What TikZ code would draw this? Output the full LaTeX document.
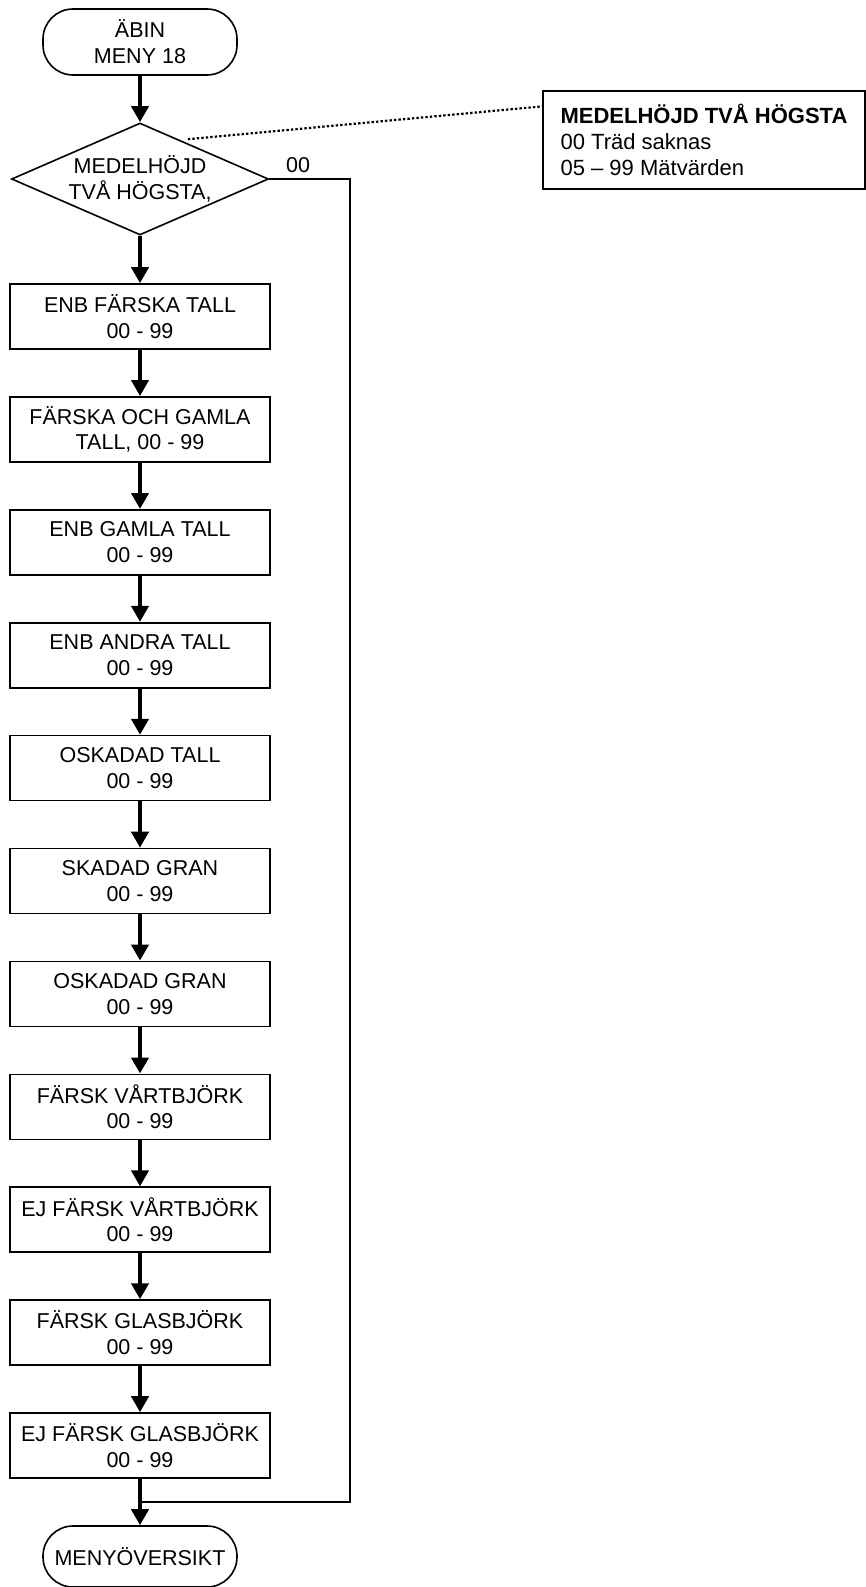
\documentclass[tikz,border=0pt]{standalone}
\usepackage{fontspec}
\setmainfont{Liberation Sans}
\usetikzlibrary{arrows.meta,shapes.geometric,calc}
\begin{document}
\begin{tikzpicture}[x=1pt,y=-1pt,
  txt/.style={font=\fontsize{21.5}{25.8}\selectfont, align=center},
  stepbox/.style={txt, draw, line width=1.6pt, minimum width=260pt, minimum height=65pt, inner sep=0pt},
  term/.style={txt, draw, line width=1.6pt, rounded corners=30pt, minimum width=194pt, minimum height=66pt, inner sep=0pt},
  decision/.style={txt, draw, diamond, line width=1.6pt, minimum width=257pt, minimum height=112pt, inner sep=0pt, aspect=2.29},
  flow/.style={line width=4pt, -{Triangle[width=17pt,length=16pt]}},
  back/.style={line width=2pt},
  notelink/.style={line width=2.2pt, dash pattern=on 2.4pt off 2.1pt},
  notebox/.style={draw, line width=1.8pt, font=\fontsize{22}{26.3}\selectfont, align=left, minimum width=322pt, minimum height=98pt, inner sep=0pt}
]
\fill[white] (0,0) rectangle (866,1587);
\useasboundingbox (0,0) rectangle (866,1587);

% start, decision and the chain of input steps
\node[term] (start) at (140,42) {ÄBIN\\MENY 18};
\node[decision] (d) at (140,179) {MEDELHÖJD\\TVÅ HÖGSTA,};
\node[stepbox] (b1)  at (140,316.5)  {ENB FÄRSKA TALL\\00 - 99};
\node[stepbox] (b2)  at (140,429.4)  {FÄRSKA OCH GAMLA\\TALL, 00 - 99};
\node[stepbox] (b3)  at (140,542.3)  {ENB GAMLA TALL\\00 - 99};
\node[stepbox] (b4)  at (140,655.2)  {ENB ANDRA TALL\\00 - 99};
\node[stepbox] (b5)  at (140,768.1)  {OSKADAD TALL\\00 - 99};
\node[stepbox] (b6)  at (140,881.0)  {SKADAD GRAN\\00 - 99};
\node[stepbox] (b7)  at (140,993.9)  {OSKADAD GRAN\\00 - 99};
\node[stepbox] (b8)  at (140,1106.8) {FÄRSK VÅRTBJÖRK\\00 - 99};
\node[stepbox] (b9)  at (140,1219.7) {EJ FÄRSK VÅRTBJÖRK\\00 - 99};
\node[stepbox] (b10) at (140,1332.6) {FÄRSK GLASBJÖRK\\00 - 99};
\node[stepbox] (b11) at (140,1445.5) {EJ FÄRSK GLASBJÖRK\\00 - 99};
\node[term, minimum height=61pt] (end) at (140,1556.5) {MENYÖVERSIKT};

% explanatory note
\node[notebox] (note) at (704,140) {\textbf{MEDELHÖJD TVÅ HÖGSTA}\\00 Träd saknas\\05 – 99 Mätvärden};

% main flow
\draw[flow] (start.south) -- (d.north);
\draw[flow] (d.south) -- (b1.north);
\foreach \a/\b in {b1/b2,b2/b3,b3/b4,b4/b5,b5/b6,b6/b7,b7/b8,b8/b9,b9/b10,b10/b11}
  \draw[flow] (\a.south) -- (\b.north);
\draw[flow] (b11.south) -- (end.north);

% skip branch for 00
\node[txt, anchor=base] (lbl) at (298,172) {00};
\coordinate (rt) at (350,1502);
\coordinate (join) at (140,1502);
\draw[back] (d.east) -| (rt) -- (join);

% dotted link to the note
\draw[notelink] ($(d.north)!0.37!(d.east)+(0,-4)$) -- ($(note.north west)!0.163!(note.south west)$);
\end{tikzpicture}
\end{document}
